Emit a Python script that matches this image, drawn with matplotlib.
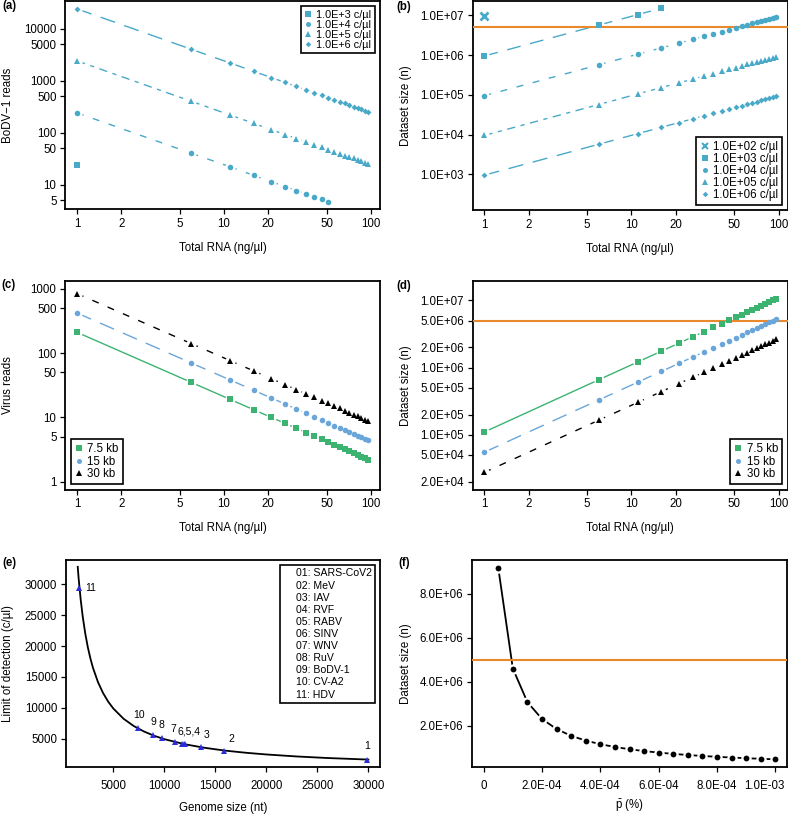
import matplotlib
matplotlib.use("Agg")
import matplotlib.pyplot as plt
from matplotlib.lines import Line2D
from matplotlib.transforms import ScaledTranslation

plt.rcParams['font.family'] = ['Liberation Sans', 'DejaVu Sans']
plt.rcParams['mathtext.fontset'] = 'custom'
plt.rcParams['mathtext.rm'] = 'Liberation Sans'
plt.rcParams['font.size'] = 8.3

# total RNA (ng/ul)
rna = [1, 6, 11, 16, 21, 26, 31, 36, 41, 46, 51, 56, 61, 66, 71, 76, 81, 86, 91, 96]

# (a) BoDV-1 reads per concentration
reads_1e3 = [24]
reads_1e4 = [240, 40, 22, 15, 11.4, 9.2, 7.7, 6.7, 5.9, 5.2, 4.7]
reads_1e5 = [2400, 400, 218, 150, 114, 92, 77, 67, 59, 52, 47, 43, 39, 36, 34, 32, 30, 28, 26, 25]
reads_1e6 = [24000, 4000, 2182, 1500, 1143, 923, 774, 667, 585, 522, 471, 429, 393, 364, 338, 316, 296, 279, 264, 250]

# (b) dataset size per concentration
n_1e2 = [9.4e6]
n_1e3 = [9.5e5, 5.7e6, 1.04e7, 1.52e7]
n_1e4 = [9.5e4, 5.7e5, 1.05e6, 1.52e6, 2.0e6, 2.47e6, 2.95e6, 3.42e6, 3.9e6, 4.37e6,
         4.85e6, 5.32e6, 5.8e6, 6.27e6, 6.75e6, 7.22e6, 7.7e6, 8.17e6, 8.65e6, 9.12e6]
n_1e5 = [9.5e3, 5.7e4, 1.05e5, 1.52e5, 2.0e5, 2.47e5, 2.95e5, 3.42e5, 3.9e5, 4.37e5,
         4.85e5, 5.32e5, 5.8e5, 6.27e5, 6.75e5, 7.22e5, 7.7e5, 8.17e5, 8.65e5, 9.12e5]
n_1e6 = [950, 5700, 10500, 15200, 20000, 24700, 29500, 34200, 39000, 43700,
         48500, 53200, 58000, 62700, 67500, 72200, 77000, 81700, 86500, 91200]

# (c) virus reads per genome size
vr_7k5 = [210, 35, 19.1, 13.1, 10, 8.1, 6.8, 5.8, 5.1, 4.6, 4.1, 3.75, 3.44, 3.18, 2.96, 2.76, 2.59, 2.44, 2.31, 2.19]
vr_15k = [420, 70, 38.2, 26.3, 20, 16.2, 13.5, 11.7, 10.2, 9.1, 8.2, 7.5, 6.9, 6.4, 5.9, 5.5, 5.2, 4.9, 4.6, 4.4]
vr_30k = [840, 140, 76.4, 52.5, 40, 32.3, 27.1, 23.3, 20.5, 18.3, 16.5, 15, 13.8, 12.7, 11.8, 11.1, 10.4, 9.8, 9.2, 8.75]

# (d) dataset size per genome size
ds_7k5 = [1.1e5, 6.6e5, 1.21e6, 1.76e6, 2.31e6, 2.86e6, 3.41e6, 3.96e6, 4.51e6, 5.06e6,
          5.61e6, 6.16e6, 6.71e6, 7.26e6, 7.81e6, 8.36e6, 8.91e6, 9.46e6, 1.0e7, 1.056e7]
ds_15k = [5.5e4, 3.3e5, 6.05e5, 8.8e5, 1.155e6, 1.43e6, 1.705e6, 1.98e6, 2.255e6, 2.53e6,
          2.805e6, 3.08e6, 3.355e6, 3.63e6, 3.905e6, 4.18e6, 4.455e6, 4.73e6, 5.005e6, 5.28e6]
ds_30k = [2.75e4, 1.65e5, 3.025e5, 4.4e5, 5.775e5, 7.15e5, 8.525e5, 9.9e5, 1.1275e6, 1.265e6,
          1.4025e6, 1.54e6, 1.6775e6, 1.815e6, 1.9525e6, 2.09e6, 2.2275e6, 2.365e6, 2.5025e6, 2.64e6]

# (e) limit of detection vs genome size
virus_ids = ['1', '2', '3', '4', '5', '6', '7', '8', '9', '10', '11']
virus_names = ['SARS-CoV2', 'MeV', 'IAV', 'RVF', 'RABV', 'SINV', 'WNV', 'RuV', 'BoDV-1', 'CV-A2', 'HDV']
genome_nt = [29903, 15894, 13588, 11979, 11932, 11703, 11029, 9762, 8910, 7400, 1682]
lod = [1660, 3110, 3640, 4130, 4150, 4230, 4490, 5070, 5560, 6690, 29400]
curve_nt = [1510, 1600, 1800, 2000, 2250, 2500, 2750, 3000, 3500, 4000, 4500, 5000, 6000,
            7000, 8000, 9000, 10000, 12000, 14000, 16000, 18000, 20000, 23000, 26000, 30000]
curve_lod = [32800, 30900, 27500, 24750, 22000, 19800, 18000, 16500, 14140, 12380, 11000, 9900, 8250,
             7070, 6190, 5500, 4950, 4125, 3540, 3090, 2750, 2475, 2150, 1900, 1650]

# (f) dataset size vs p
p_bar = [5e-5, 1e-4, 1.5e-4, 2e-4, 2.5e-4, 3e-4, 3.5e-4, 4e-4, 4.5e-4, 5e-4,
         5.5e-4, 6e-4, 6.5e-4, 7e-4, 7.5e-4, 8e-4, 8.5e-4, 9e-4, 9.5e-4, 1e-3]
n_p = [9.2e6, 4.6e6, 3.067e6, 2.3e6, 1.84e6, 1.533e6, 1.314e6, 1.15e6, 1.022e6, 9.2e5,
       8.36e5, 7.67e5, 7.08e5, 6.57e5, 6.13e5, 5.75e5, 5.41e5, 5.11e5, 4.84e5, 4.6e5]

threshold = 5e6

cyan = '#49A9C9'
green = '#3CB371'
lblue = '#6AA6DA'
orange = '#E8892E'
W, H = 788, 817


def place(l, r, t, b):
    return [l / W, 1 - b / H, (r - l) / W, (b - t) / H]


def series(ax, x, y, color, dashes, marker, ms, lw=1.0):
    # R type="b": separate segments, gaps round the points
    x = x[:len(y)]
    for i in range(len(y) - 1):
        if dashes is None:
            ax.plot(x[i:i + 2], y[i:i + 2], color=color, lw=lw, zorder=2)
        else:
            ax.plot(x[i:i + 2], y[i:i + 2], color=color, lw=lw, dashes=dashes, zorder=2)
    ax.plot(x, y, ls='none', marker='o', ms=7.5, color='white', mew=0, zorder=2.5)
    ax.plot(x, y, ls='none', marker=marker, ms=ms, color=color, mew=0, zorder=3)


def style(ax, bottom_row=False):
    for s in ax.spines.values():
        s.set_linewidth(1.3)
    ax.tick_params(direction='out', length=3.6, width=0.9, labelsize=8.3, pad=2.8)
    if bottom_row:
        ax.tick_params(axis='x', pad=5.5)
    ax.minorticks_off()


def leg(ax, handles, labels, loc, fs=7.8, spacing=0.0):
    lg = ax.legend(handles, labels, loc=loc, fontsize=fs, frameon=True, fancybox=False,
                   edgecolor='black', framealpha=1, handlelength=0.7, handletextpad=0.4,
                   borderpad=0.35, labelspacing=spacing, borderaxespad=0.45)
    lg.get_frame().set_linewidth(1.2)
    return lg


def mk(marker, color, ms):
    return Line2D([], [], ls='none', marker=marker, color=color, ms=ms, mew=0)


fig = plt.figure(figsize=(W / 100, H / 100), dpi=100)

log_ticks = [1, 2, 5, 10, 20, 50, 100]
log_labels = ['1', '2', '5', '10', '20', '50', '100']

# ---- (a)
ax = fig.add_axes(place(65.4, 380, 1, 209))
series(ax, rna, reads_1e6, cyan, (11, 7), 'D', 3.0)
series(ax, rna, reads_1e5, cyan, (6, 4, 3, 4), '^', 5.0)
series(ax, rna, reads_1e4, cyan, (5, 7), 'o', 4.0)
series(ax, rna, reads_1e3, cyan, None, 's', 4.0)
ax.set_xscale('log')
ax.set_yscale('log')
ax.set_xlim(0.833, 115)
ax.set_ylim(3.4, 34000)
ax.set_xticks(log_ticks, log_labels)
a_ticks = [5, 10, 50, 100, 500, 1000, 5000, 10000]
ax.set_yticks(a_ticks, [str(t) for t in a_ticks])
style(ax)
ax.set_xlabel('Total RNA (ng/µl)')
ax.set_ylabel('BoDV\u22121 reads')
ax.xaxis.set_label_coords(0.5, -33 / 208)
ax.yaxis.set_label_coords(-(65.4 - 14) / 314.6, 0.5)
leg(ax, [mk('s', cyan, 4), mk('o', cyan, 3.6), mk('^', cyan, 4.5), mk('D', cyan, 2.8)],
    ['1.0E+3 c/µl', '1.0E+4 c/µl', '1.0E+5 c/µl', '1.0E+6 c/µl'], 'upper right')

# ---- (b)
ax = fig.add_axes(place(472.7, 787.5, 1, 210))
ax.axhline(threshold, color=orange, lw=1.5, zorder=2.8)
series(ax, rna, n_1e6, cyan, (11, 7), 'D', 3.0)
series(ax, rna, n_1e5, cyan, (6, 4, 3, 4), '^', 5.0)
series(ax, rna, n_1e4, cyan, (5, 7), 'o', 4.0)
series(ax, rna, n_1e3, cyan, (10, 7), 's', 4.0)
ax.plot(rna[:1], n_1e2, ls='none', marker='x', ms=5.5, mew=2, color=cyan, zorder=3)
ax.set_xscale('log')
ax.set_yscale('log')
ax.set_xlim(0.833, 115)
ax.set_ylim(126, 2.3e7)
ax.set_xticks(log_ticks, log_labels)
b_ticks = [1e3, 1e4, 1e5, 1e6, 1e7]
ax.set_yticks(b_ticks, ['1.0E+03', '1.0E+04', '1.0E+05', '1.0E+06', '1.0E+07'])
style(ax)
ax.set_xlabel('Total RNA (ng/µl)')
ax.set_ylabel('Dataset size (n)')
ax.xaxis.set_label_coords(0.5, -33 / 209)
ax.yaxis.set_label_coords(-(472.7 - 412.5) / 314.8, 0.5)
xh = Line2D([], [], ls='none', marker='x', color=cyan, ms=4, mew=1.5)
leg(ax, [xh, mk('s', cyan, 4), mk('o', cyan, 3.6), mk('^', cyan, 4.5), mk('D', cyan, 2.8)],
    ['1.0E+02 c/µl', '1.0E+03 c/µl', '1.0E+04 c/µl', '1.0E+05 c/µl', '1.0E+06 c/µl'],
    'lower right', fs=8.3)

# ---- (c)
ax = fig.add_axes(place(65.4, 380, 281, 489.5))
series(ax, rna, vr_7k5, green, None, 's', 4.2)
series(ax, rna, vr_15k, lblue, (11, 7), 'o', 4.0)
series(ax, rna, vr_30k, 'black', (5, 7), '^', 5.0)
ax.set_xscale('log')
ax.set_yscale('log')
ax.set_xlim(0.833, 115)
ax.set_ylim(0.76, 1318)
ax.set_xticks(log_ticks, log_labels)
c_ticks = [1, 5, 10, 50, 100, 500, 1000]
ax.set_yticks(c_ticks, [str(t) for t in c_ticks])
style(ax)
ax.set_xlabel('Total RNA (ng/µl)')
ax.set_ylabel('Virus reads')
ax.xaxis.set_label_coords(0.5, -33 / 208.5)
ax.yaxis.set_label_coords(-(65.4 - 14) / 314.6, 0.5)
leg(ax, [mk('s', green, 4), mk('o', lblue, 3.6), mk('^', 'black', 4.5)],
    ['7.5 kb', '15 kb', '30 kb'], 'lower left', fs=8.3, spacing=0.05)

# ---- (d)
ax = fig.add_axes(place(472.7, 787.5, 281, 489.5))
ax.axhline(threshold, color=orange, lw=1.5, zorder=2.8)
series(ax, rna, ds_7k5, green, None, 's', 4.2)
series(ax, rna, ds_15k, lblue, (11, 7), 'o', 4.0)
series(ax, rna, ds_30k, 'black', (5, 7), '^', 5.0)
ax.set_xscale('log')
ax.set_yscale('log')
ax.set_xlim(0.833, 115)
ax.set_ylim(1.53e4, 1.95e7)
ax.set_xticks(log_ticks, log_labels)
d_ticks = [2e4, 5e4, 1e5, 2e5, 5e5, 1e6, 2e6, 5e6, 1e7]
d_labels = ['2.0E+04', '5.0E+04', '1.0E+05', '2.0E+05', '5.0E+05',
            '1.0E+06', '2.0E+06', '5.0E+06', '1.0E+07']
ax.set_yticks(d_ticks, d_labels)
style(ax)
ax.set_xlabel('Total RNA (ng/µl)')
ax.set_ylabel('Dataset size (n)')
ax.xaxis.set_label_coords(0.5, -33 / 208.5)
ax.yaxis.set_label_coords(-(472.7 - 412.5) / 314.8, 0.5)
leg(ax, [mk('s', green, 4), mk('o', lblue, 3.6), mk('^', 'black', 4.5)],
    ['7.5 kb', '15 kb', '30 kb'], 'lower right', fs=8.3, spacing=0.05)

# ---- (e)
ax = fig.add_axes(place(66, 380, 560, 767))
ax.plot(curve_nt, curve_lod, color='black', lw=1.3, zorder=2)
ax.plot(genome_nt, lod, ls='none', marker='^', ms=4.5, color='#2B2BD8', mew=0, zorder=3)
offsets = {'1': (0, 6), '2': (5, 5), '3': (4, 5), '7': (-1, 6), '8': (0, 6),
           '9': (0, 6), '10': (1, 6), '11': (4, 0)}
for vid, gx, gy in zip(virus_ids, genome_nt, lod):
    if vid in ('4', '5'):
        continue
    lab = '6,5,4' if vid == '6' else vid
    dx, dy = (5, 5) if vid == '6' else offsets[vid]
    ha = 'left' if vid == '11' else 'center'
    va = 'center' if vid == '11' else 'bottom'
    ax.annotate(lab, (gx, gy), xytext=(dx, dy), textcoords='offset points',
                ha=ha, va=va, fontsize=7.5)
ax.set_xlim(360, 31140)
ax.set_ylim(450, 33900)
e_x = [5000, 10000, 15000, 20000, 25000, 30000]
ax.set_xticks(e_x, [str(t) for t in e_x])
ax.set_yticks(e_x, [str(t) for t in e_x])
style(ax, bottom_row=True)
ax.set_xlabel('Genome size (nt)')
ax.set_ylabel('Limit of detection (c/µl)')
ax.xaxis.set_label_coords(0.5, -35 / 207)
ax.yaxis.set_label_coords(-(66 - 14) / 314, 0.5)
blank = [Line2D([], [], ls='none') for _ in virus_names]
leg(ax, blank, ['%02d: %s' % (int(i), n) for i, n in zip(virus_ids, virus_names)],
    'upper right', fs=7.6, spacing=0.2)

# ---- (f)
ax = fig.add_axes(place(472, 787, 560, 767))
ax.axhline(threshold, color=orange, lw=1.5, zorder=2.8)
series(ax, p_bar, n_p, 'black', None, 'o', 4.2, lw=1.3)
ax.set_xlim(-4e-5, 1.04e-3)
ax.set_ylim(1.1e5, 9.55e6)
f_x = [0, 2e-4, 4e-4, 6e-4, 8e-4, 1e-3]
ax.set_xticks(f_x, ['0', '2.0E-04', '4.0E-04', '6.0E-04', '8.0E-04', '1.0E-03'])
f_y = [2e6, 4e6, 6e6, 8e6]
ax.set_yticks(f_y, ['2.0E+06', '4.0E+06', '6.0E+06', '8.0E+06'])
style(ax, bottom_row=True)
last = ax.get_xticklabels()[-1]
last.set_transform(last.get_transform() + ScaledTranslation(-0.11, 0, fig.dpi_scale_trans))
ax.set_xlabel(r'$\bar{\rm p}$ (%)')
ax.set_ylabel('Dataset size (n)')
ax.xaxis.set_label_coords(0.5, -31 / 207)
ax.yaxis.set_label_coords(-(472 - 412.5) / 315, 0.5)

# panel letters
for lab, px, py in [('(a)', 9, 6), ('(b)', 404, 7), ('(c)', 9, 285),
                    ('(d)', 404, 286), ('(e)', 9, 563), ('(f)', 404, 563)]:
    fig.text(px / W, 1 - py / H, lab, fontweight='bold', fontsize=8.3, ha='center', va='center')

fig.savefig('out.png', dpi=100)
